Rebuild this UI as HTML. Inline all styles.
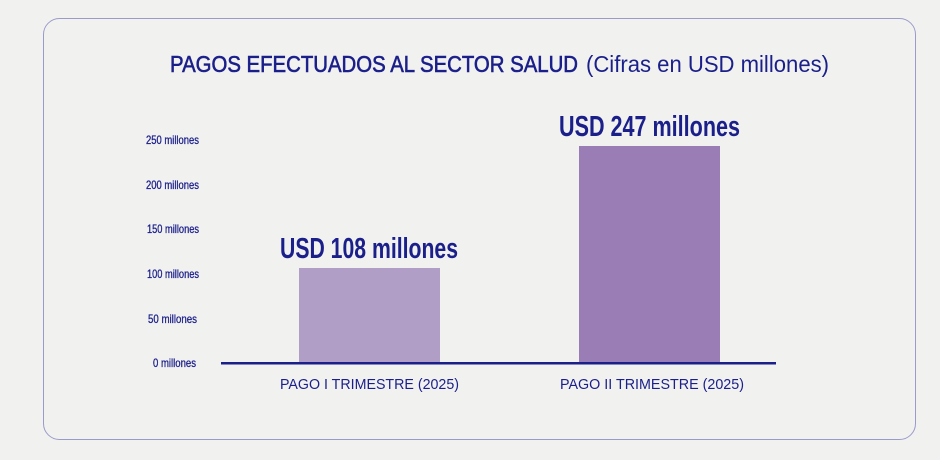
<!DOCTYPE html>
<html><head><style>html,body{margin:0;padding:0;background:#f1f1f0;}svg{display:block;}</style></head>
<body>
<svg width="940" height="460" xmlns="http://www.w3.org/2000/svg" font-family="Liberation Sans, sans-serif" fill="#1b1f8a">
<rect x="0" y="0" width="940" height="460" fill="#f1f1f0"/>
<rect x="43.5" y="18.5" width="872" height="421" rx="16" fill="none" stroke="#9b9bcb" stroke-width="1"/>
<text x="170" y="72" font-size="23" stroke="#1b1f8a" stroke-width="0.6" textLength="408" lengthAdjust="spacingAndGlyphs">PAGOS EFECTUADOS AL SECTOR SALUD</text>
<text x="586" y="72" font-size="23" textLength="243" lengthAdjust="spacingAndGlyphs">(Cifras en USD millones)</text>
<g font-size="12" text-anchor="end" stroke="#1b1f8a" stroke-width="0.3">
<text x="199" y="144" textLength="53" lengthAdjust="spacingAndGlyphs">250 millones</text>
<text x="199" y="189" textLength="53" lengthAdjust="spacingAndGlyphs">200 millones</text>
<text x="199" y="233" textLength="52" lengthAdjust="spacingAndGlyphs">150 millones</text>
<text x="199" y="278" textLength="52" lengthAdjust="spacingAndGlyphs">100 millones</text>
<text x="197" y="323" textLength="49" lengthAdjust="spacingAndGlyphs">50 millones</text>
<text x="196" y="367" textLength="43" lengthAdjust="spacingAndGlyphs">0 millones</text>
</g>
<rect x="299" y="268" width="141" height="95" fill="#b19ec6"/>
<rect x="579" y="146" width="141" height="217" fill="#9a7db4"/>
<rect x="221" y="362" width="555" height="2.5" fill="#1b1f8a"/>
<text x="280" y="258" font-size="29" font-weight="bold" textLength="178" lengthAdjust="spacingAndGlyphs">USD 108 millones</text>
<text x="559" y="136" font-size="29" font-weight="bold" textLength="181" lengthAdjust="spacingAndGlyphs">USD 247 millones</text>
<text x="280" y="389" font-size="15" textLength="179" lengthAdjust="spacingAndGlyphs">PAGO I TRIMESTRE (2025)</text>
<text x="560" y="389" font-size="15" textLength="184" lengthAdjust="spacingAndGlyphs">PAGO II TRIMESTRE (2025)</text>
</svg>
</body></html>
